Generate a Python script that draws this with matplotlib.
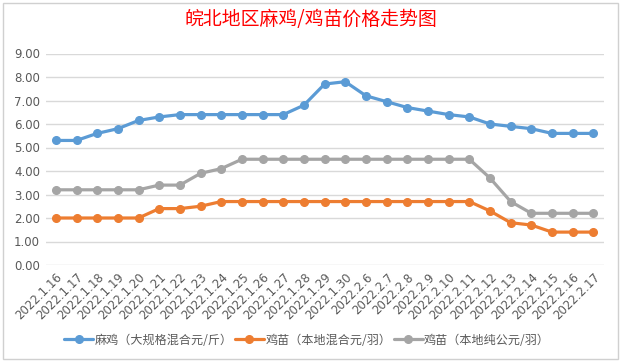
import matplotlib
matplotlib.use("Agg")
import matplotlib.pyplot as plt
from matplotlib.patches import Rectangle

plt.rcParams['font.family'] = ['Noto Sans CJK SC', 'DejaVu Sans']

dates = ["2022.1.16", "2022.1.17", "2022.1.18", "2022.1.19", "2022.1.20", "2022.1.21",
         "2022.1.22", "2022.1.23", "2022.1.24", "2022.1.25", "2022.1.26", "2022.1.27",
         "2022.1.28", "2022.1.29", "2022.1.30", "2022.2.6", "2022.2.7", "2022.2.8",
         "2022.2.9", "2022.2.10", "2022.2.11", "2022.2.12", "2022.2.13", "2022.2.14",
         "2022.2.15", "2022.2.16", "2022.2.17"]

maji = [5.3, 5.3, 5.6, 5.8, 6.15, 6.3, 6.4, 6.4, 6.4, 6.4, 6.4, 6.4, 6.8, 7.7, 7.8,
        7.2, 6.95, 6.7, 6.55, 6.4, 6.3, 6.0, 5.9, 5.8, 5.6, 5.6, 5.6]
jimiao_mix = [2.0, 2.0, 2.0, 2.0, 2.0, 2.4, 2.4, 2.5, 2.7, 2.7, 2.7, 2.7, 2.7, 2.7, 2.7,
              2.7, 2.7, 2.7, 2.7, 2.7, 2.7, 2.3, 1.8, 1.7, 1.4, 1.4, 1.4]
jimiao_male = [3.2, 3.2, 3.2, 3.2, 3.2, 3.4, 3.4, 3.9, 4.1, 4.5, 4.5, 4.5, 4.5, 4.5, 4.5,
               4.5, 4.5, 4.5, 4.5, 4.5, 4.5, 3.7, 2.7, 2.2, 2.2, 2.2, 2.2]

series_names = ["麻鸡（大规格混合元/斤）", "鸡苗（本地混合元/羽）", "鸡苗（本地纯公元/羽）"]
colors = ["#5B9BD5", "#ED7D31", "#A5A5A5"]
yticks = [0, 1, 2, 3, 4, 5, 6, 7, 8, 9]

fig = plt.figure(figsize=(6.21, 3.62), dpi=100)
fig.patches.append(Rectangle((3/621, 3/362), 615/621, 356/362, transform=fig.transFigure,
                             fill=False, edgecolor="#D0D0D0", linewidth=1))

ax = fig.add_axes([45.5/621, 1-265/362, (603.7-45.5)/621, (265-53.5)/362])
x = list(range(len(dates)))
for vals, name, c in zip([maji, jimiao_mix, jimiao_male], series_names, colors):
    ax.plot(x, vals, color=c, linewidth=2.3, marker='o', markersize=5.5, label=name,
            solid_capstyle='round', zorder=3)

ax.set_xlim(-0.5, len(dates)-0.5)
ax.set_ylim(0, 9)
ax.set_yticks(yticks)
ax.set_yticklabels([f"{v:.2f}" for v in yticks], fontsize=8.5, color="#595959",
                   family=['DejaVu Sans'])
ax.set_xticks(x)
ax.set_xticklabels(dates, rotation=45, ha='right', rotation_mode='anchor',
                   fontsize=8.5, color="#595959", family=['DejaVu Sans'])
ax.tick_params(axis='both', length=0, pad=4)
ax.grid(axis='y', color="#D9D9D9", linewidth=1)
ax.set_axisbelow(True)
for s in ax.spines.values():
    s.set_visible(False)

fig.text(0.5, 1-20/362, "皖北地区麻鸡/鸡苗价格走势图", ha='center', va='center',
         fontsize=13.6, color="#FF0000")

leg = fig.legend(loc='center', bbox_to_anchor=(307/621, 1-340/362), ncol=3, frameon=False,
                 fontsize=8.7, handlelength=2.4, columnspacing=0.2, handletextpad=0.1,
                 labelcolor="#595959")

fig.savefig("out.png", dpi=100)
